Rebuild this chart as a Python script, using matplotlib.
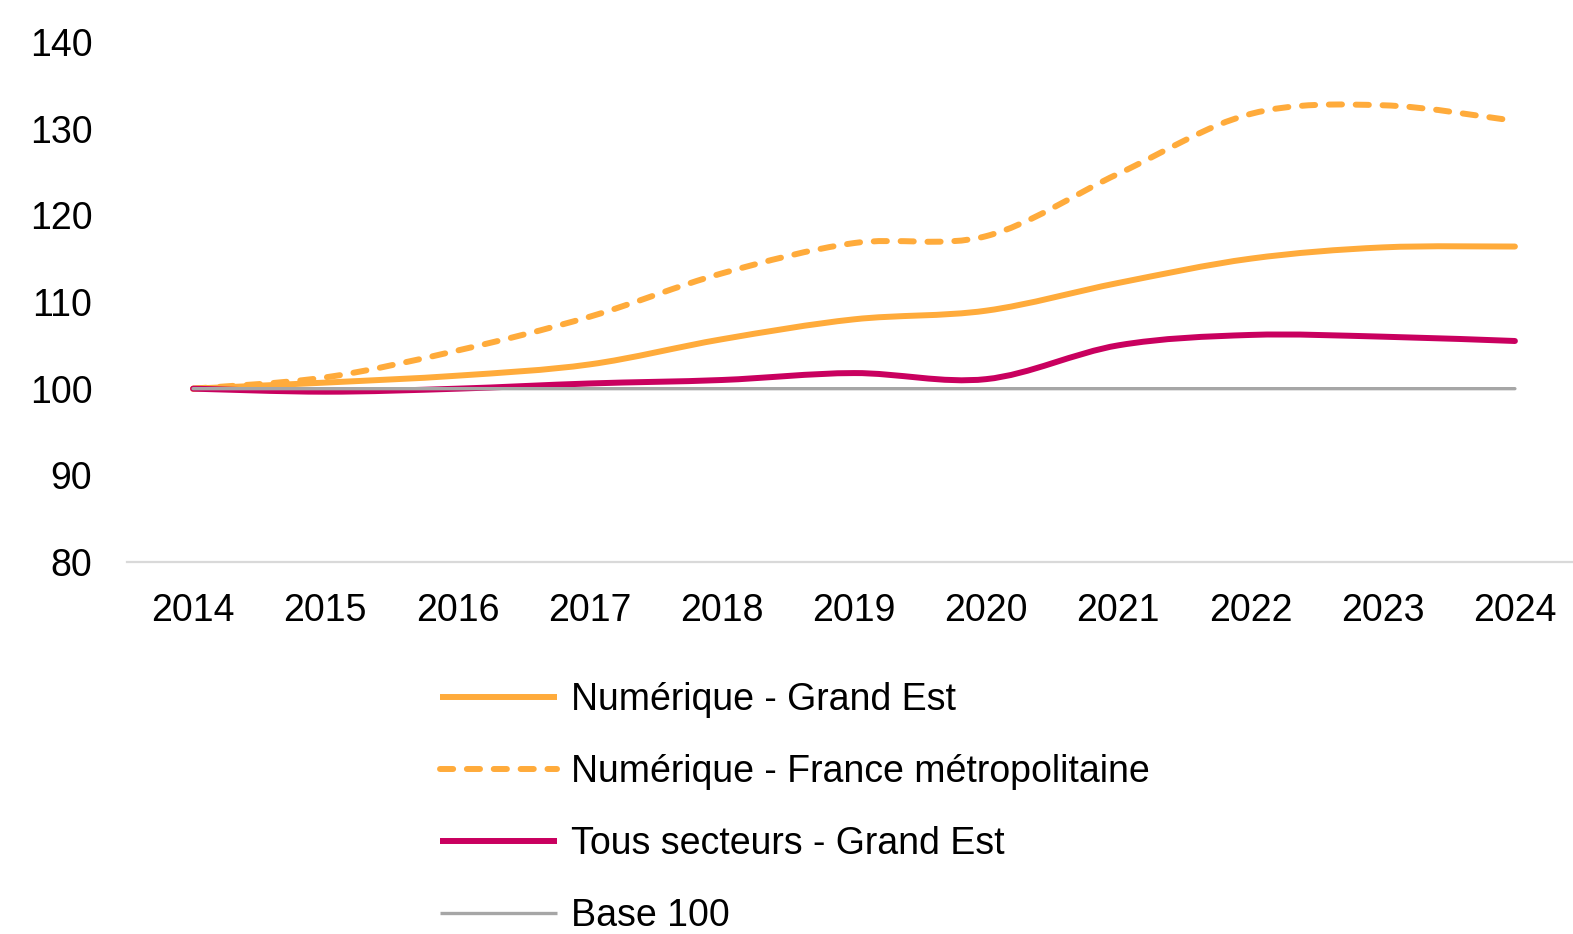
import matplotlib.pyplot as plt
from matplotlib.path import Path
from matplotlib.patches import PathPatch
from matplotlib.lines import Line2D

# Indices base 100 en 2014, lignes lissées comme dans Excel.

years = [2014, 2015, 2016, 2017, 2018, 2019, 2020, 2021, 2022, 2023, 2024]
num_grand_est = [100, 100.7, 101.5, 102.8, 105.7, 108.0, 109.0, 112.2, 115.0, 116.3, 116.4]
num_france = [100, 101.3, 104.4, 108.3, 113.3, 116.8, 117.6, 124.8, 131.7, 132.7, 130.9]
tous_grand_est = [100, 99.65, 100.0, 100.6, 101.0, 101.8, 101.1, 105.0, 106.2, 106.0, 105.5]
base_100 = [100] * len(years)

labels = ["Numérique - Grand Est", "Numérique - France métropolitaine",
          "Tous secteurs - Grand Est", "Base 100"]

ORANGE = "#FFAB3B"
MAGENTA = "#C9005F"
GREY = "#A6A6A6"


def smooth_path(xs, ys):
    # bezier cubique a la Excel (tangentes type Catmull-Rom)
    pts = list(zip(xs, ys))
    n = len(pts)
    verts = [pts[0]]
    codes = [Path.MOVETO]
    for i in range(n - 1):
        p0 = pts[i - 1] if i > 0 else pts[i]
        p1 = pts[i]
        p2 = pts[i + 1]
        p3 = pts[i + 2] if i + 2 < n else pts[i + 1]
        c1 = (p1[0] + (p2[0] - p0[0]) / 6, p1[1] + (p2[1] - p0[1]) / 6)
        c2 = (p2[0] - (p3[0] - p1[0]) / 6, p2[1] - (p3[1] - p1[1]) / 6)
        verts += [c1, c2, p2]
        codes += [Path.CURVE4] * 3
    return Path(verts, codes)


def main():
    plt.rcParams['font.family'] = ['Liberation Sans', 'DejaVu Sans']
    fig = plt.figure(figsize=(15.73, 9.34), dpi=100)
    ax = fig.add_axes([127 / 1573, 1 - 562 / 934, (1581 - 127) / 1573, 520 / 934])
    ax.set_xlim(2013.5, 2024.5)
    ax.set_ylim(80, 140)

    dash = (0, (2.2, 2.3))
    series = [
        (num_grand_est, ORANGE, 4.3, '-'),
        (num_france, ORANGE, 4.3, dash),
        (tous_grand_est, MAGENTA, 4.3, '-'),
        (base_100, GREY, 2.4, '-'),
    ]
    for ys, color, lw, ls in series:
        patch = PathPatch(smooth_path(years, ys), fill=False, edgecolor=color,
                          linewidth=lw, linestyle=ls, capstyle='round',
                          joinstyle='round')
        ax.add_patch(patch)

    for side in ['top', 'right', 'left']:
        ax.spines[side].set_visible(False)
    ax.spines['bottom'].set_color('#D9D9D9')
    ax.spines['bottom'].set_linewidth(1.6)
    ax.set_xticks(years)
    ax.set_yticks(range(80, 141, 10))
    ax.tick_params(axis='both', length=0, labelsize=27, colors='#000000')
    ax.tick_params(axis='y', pad=25)
    ax.tick_params(axis='x', pad=22.5)

    handles = []
    for ys, color, lw, ls in series:
        h = Line2D([0], [0], color=color, linewidth=lw, linestyle=ls,
                   dash_capstyle='round', solid_capstyle='butt')
        handles.append(h)
    fig.legend(handles, labels, loc='upper left',
               bbox_to_anchor=(440 / 1573, 1 - 682 / 934),
               frameon=False, fontsize=27, borderpad=0, borderaxespad=0,
               handlelength=3.12, handletextpad=0.37, labelspacing=0.96)

    fig.savefig("out.png", dpi=100)


if __name__ == "__main__":
    main()
